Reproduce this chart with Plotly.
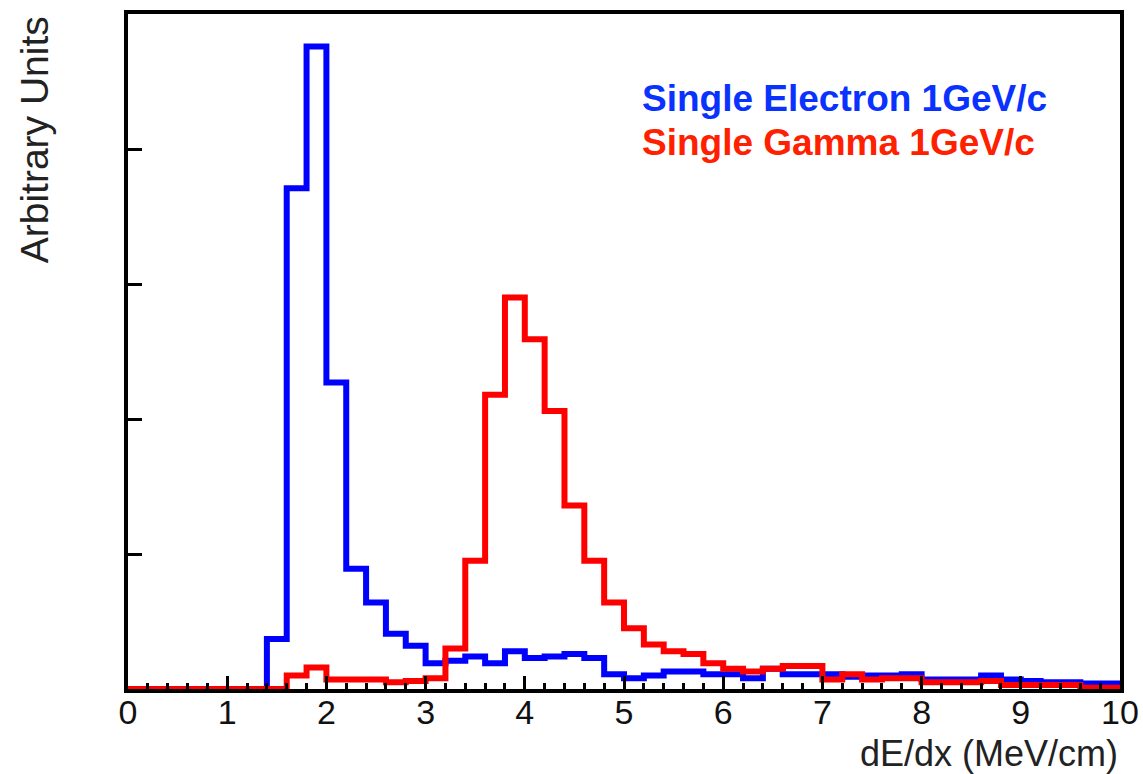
import plotly.graph_objects as go

# bin edges: 50 bins of width 0.2 from 0 to 10
bin_width = 0.2
n_bins = 50

electron_counts = [
    0, 0, 0, 0, 0, 0, 0,
    0.37, 3.71, 4.76, 2.27, 0.89, 0.64, 0.41, 0.32, 0.19, 0.21,
    0.24, 0.19, 0.28, 0.23, 0.24, 0.26, 0.23, 0.11, 0.08, 0.10,
    0.13, 0.13, 0.11, 0.11, 0.08, 0.15, 0.11, 0.11, 0.11, 0.09,
    0.10, 0.10, 0.11, 0.07, 0.07, 0.07, 0.10, 0.07, 0.06, 0.05,
    0.05, 0.04, 0.04,
]

gamma_counts = [
    0, 0, 0, 0, 0, 0, 0, 0,
    0.10, 0.16, 0.07, 0.07, 0.07, 0.05, 0.06, 0.08, 0.30, 0.95,
    2.18, 2.90, 2.59, 2.06, 1.36, 0.95, 0.64, 0.45, 0.33, 0.28,
    0.26, 0.19, 0.15, 0.13, 0.15, 0.17, 0.17, 0.07, 0.11, 0.07,
    0.08, 0.08, 0.05, 0.05, 0.05, 0.06, 0.03, 0.03, 0.03, 0.03,
    0.01, 0.01,
]

x_tick_vals = [0, 1, 2, 3, 4, 5, 6, 7, 8, 9, 10]
x_tick_text = ["0", "1", "2", "3", "4", "5", "6", "7", "8", "9", "10"]
y_tick_vals = [1, 2, 3, 4]

legend_labels = ["Single Electron 1GeV/c", "Single Gamma 1GeV/c"]

edges = [round(i * bin_width, 4) for i in range(n_bins + 1)]

FONT = "Liberation Sans, Arial, Helvetica, sans-serif"


def step_xy(counts):
    xs = list(edges)
    ys = list(counts) + [counts[-1]]
    return xs, ys


fig = go.Figure()
xe, ye = step_xy(electron_counts)
fig.add_trace(go.Scatter(x=xe, y=ye, mode="lines", line=dict(color="#0000FF", width=6, shape="hv"),
                         showlegend=False, name=legend_labels[0]))
xg, yg = step_xy(gamma_counts)
fig.add_trace(go.Scatter(x=xg, y=yg, mode="lines", line=dict(color="#FF0000", width=6, shape="hv"),
                         showlegend=False, name=legend_labels[1]))

fig.update_layout(
    width=1143, height=774,
    margin=dict(l=128, r=23, t=14, b=85, autoexpand=False),
    paper_bgcolor="white", plot_bgcolor="white",
    font=dict(family=FONT, color="black", size=36),
    xaxis=dict(
        range=[0, 10], showgrid=False, zeroline=False,
        showline=True, linecolor="black", linewidth=4, mirror=True,
        ticks="inside", ticklen=13, tickwidth=3, tickcolor="black",
        tickvals=x_tick_vals, ticktext=x_tick_text,
        tickfont=dict(size=34, family=FONT, color="#111111"),
        ticklabelstandoff=-10,
        minor=dict(dtick=0.2, ticks="inside", ticklen=6, tickwidth=3, tickcolor="black", showgrid=False),
    ),
    yaxis=dict(
        range=[0, 5], showgrid=False, zeroline=False,
        showline=True, linecolor="black", linewidth=4, mirror=True,
        ticks="inside", ticklen=14, tickwidth=3, tickcolor="black",
        tickvals=y_tick_vals, showticklabels=False,
    ),
)

fig.add_annotation(text="dE/dx (MeV/cm)", xref="paper", yref="paper", x=1.0, y=-0.095,
                   xanchor="right", yanchor="middle", showarrow=False,
                   font=dict(size=36, family=FONT, color="#222222"))
fig.add_annotation(text="Arbitrary Units", xref="paper", yref="paper", x=-0.094, y=1.0,
                   xanchor="center", yanchor="top", textangle=-90, showarrow=False,
                   font=dict(size=39, family=FONT, color="#222222"))
fig.add_annotation(text="<b>" + legend_labels[0] + "</b>", xref="paper", yref="paper", x=0.516, y=0.875,
                   xanchor="left", yanchor="middle", showarrow=False,
                   font=dict(size=37, family=FONT, color="#0A32FF"))
fig.add_annotation(text="<b>" + legend_labels[1] + "</b>", xref="paper", yref="paper", x=0.516, y=0.810,
                   xanchor="left", yanchor="middle", showarrow=False,
                   font=dict(size=37, family=FONT, color="#FF2000"))

fig.write_html(
    "out.html",
    config={"displayModeBar": False},
    post_script="document.body.style.margin='0';document.documentElement.style.overflow='hidden';",
)
